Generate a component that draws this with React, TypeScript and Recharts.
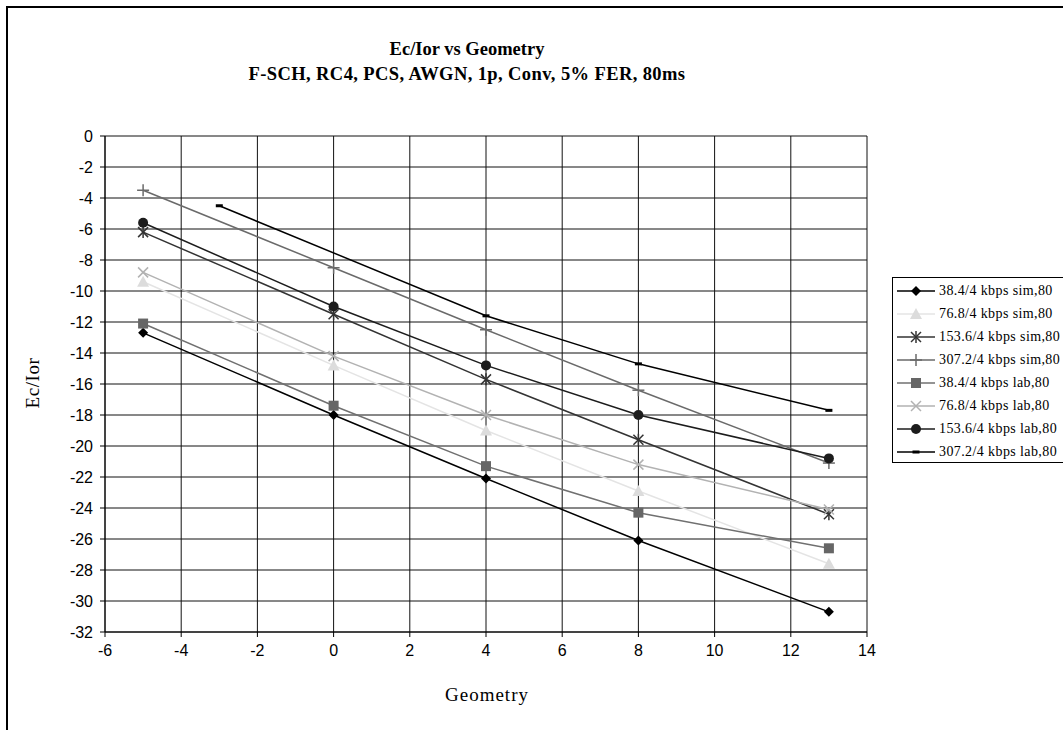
import React from 'react';
import { LineChart, Line, XAxis, YAxis, CartesianGrid } from 'recharts';

// Geometry positions and Ec/Ior readings (dB)
const geometrySim = [-5, 0, 4, 8, 13];
const geometryLab307 = [-3, 4, 8, 13];

const sim384 = [-12.7, -18.0, -22.1, -26.1, -30.7];
const sim768 = [-9.4, -14.8, -19.0, -22.9, -27.6];
const sim1536 = [-6.2, -11.5, -15.7, -19.6, -24.4];
const sim3072 = [-3.5, -8.5, -12.5, -16.4, -21.1];
const lab384 = [-12.1, -17.4, -21.3, -24.3, -26.6];
const lab768 = [-8.8, -14.2, -18.0, -21.2, -24.1];
const lab1536 = [-5.6, -11.0, -14.8, -18.0, -20.8];
const lab3072 = [-4.5, -11.6, -14.7, -17.7];

const xTicks = [-6, -4, -2, 0, 2, 4, 6, 8, 10, 12, 14];
const yTicks = [0, -2, -4, -6, -8, -10, -12, -14, -16, -18, -20, -22, -24, -26, -28, -30, -32];

type Shape = 'diamond' | 'triangle' | 'star' | 'plus' | 'square' | 'cross' | 'circle' | 'dash';

interface SeriesDef {
  name: string;
  xs: number[];
  ys: number[];
  color: string;
  markColor: string;
  shape: Shape;
}

const series: SeriesDef[] = [
  { name: '38.4/4 kbps sim,80', xs: geometrySim, ys: sim384, color: '#000000', markColor: '#000000', shape: 'diamond' },
  { name: '76.8/4 kbps sim,80', xs: geometrySim, ys: sim768, color: '#e4e4e4', markColor: '#dcdcdc', shape: 'triangle' },
  { name: '153.6/4 kbps sim,80', xs: geometrySim, ys: sim1536, color: '#333333', markColor: '#333333', shape: 'star' },
  { name: '307.2/4 kbps sim,80', xs: geometrySim, ys: sim3072, color: '#6a6a6a', markColor: '#6a6a6a', shape: 'plus' },
  { name: '38.4/4 kbps lab,80', xs: geometrySim, ys: lab384, color: '#707070', markColor: '#666666', shape: 'square' },
  { name: '76.8/4 kbps lab,80', xs: geometrySim, ys: lab768, color: '#b2b2b2', markColor: '#b2b2b2', shape: 'cross' },
  { name: '153.6/4 kbps lab,80', xs: geometrySim, ys: lab1536, color: '#1c1c1c', markColor: '#1c1c1c', shape: 'circle' },
  { name: '307.2/4 kbps lab,80', xs: geometryLab307, ys: lab3072, color: '#000000', markColor: '#000000', shape: 'dash' },
];

function Marker({ cx, cy, shape, color }: { cx: number; cy: number; shape: Shape; color: string }) {
  if (cx == null || cy == null) return null;
  switch (shape) {
    case 'diamond':
      return <path d={`M${cx},${cy - 5}L${cx + 5},${cy}L${cx},${cy + 5}L${cx - 5},${cy}Z`} fill={color} />;
    case 'triangle':
      return <path d={`M${cx},${cy - 6}L${cx + 6},${cy + 5}L${cx - 6},${cy + 5}Z`} fill={color} />;
    case 'square':
      return <rect x={cx - 5} y={cy - 5} width={10} height={10} fill={color} />;
    case 'circle':
      return <circle cx={cx} cy={cy} r={5} fill={color} />;
    case 'dash':
      return <rect x={cx - 3.5} y={cy - 1.5} width={7} height={3} fill={color} />;
    case 'plus':
      return (
        <g stroke={color} strokeWidth={1.5}>
          <line x1={cx - 6} y1={cy} x2={cx + 6} y2={cy} />
          <line x1={cx} y1={cy - 6} x2={cx} y2={cy + 6} />
        </g>
      );
    case 'cross':
      return (
        <g stroke={color} strokeWidth={1.5}>
          <line x1={cx - 5} y1={cy - 5} x2={cx + 5} y2={cy + 5} />
          <line x1={cx - 5} y1={cy + 5} x2={cx + 5} y2={cy - 5} />
        </g>
      );
    case 'star':
      return (
        <g stroke={color} strokeWidth={1.5}>
          <line x1={cx - 5} y1={cy - 5} x2={cx + 5} y2={cy + 5} />
          <line x1={cx - 5} y1={cy + 5} x2={cx + 5} y2={cy - 5} />
          <line x1={cx} y1={cy - 6} x2={cx} y2={cy + 6} />
        </g>
      );
  }
  return null;
}

const serif = '"Liberation Serif", "DejaVu Serif", serif';
const sans = '"Liberation Sans", Arial, sans-serif';

export default function App() {
  return (
    <div style={{ position: 'absolute', left: 0, top: 0, width: 1063, height: 730, overflow: 'hidden', background: '#fff' }}>
      <div style={{ position: 'absolute', left: 6, top: 6, width: 1100, height: 800, borderTop: '2px solid #000', borderLeft: '2px solid #000' }} />
      <div style={{ position: 'absolute', left: 0, width: 934, top: 37, textAlign: 'center', fontFamily: serif, fontWeight: 'bold', fontSize: 18.5, lineHeight: '25px' }}>
        <div>Ec/Ior vs Geometry</div>
        <div style={{ letterSpacing: 0.4 }}>F-SCH, RC4, PCS, AWGN, 1p, Conv, 5% FER, 80ms</div>
      </div>
      <div style={{ position: 'absolute', left: 13, top: 363, width: 40, height: 40, display: 'flex', alignItems: 'center', justifyContent: 'center' }}>
        <div style={{ transform: 'rotate(-90deg)', fontFamily: serif, fontSize: 19, letterSpacing: 0.6, whiteSpace: 'nowrap' }}>Ec/Ior</div>
      </div>
      <div style={{ position: 'absolute', left: 387, width: 200, top: 684, textAlign: 'center', fontFamily: serif, fontSize: 19, letterSpacing: 1 }}>Geometry</div>

      <div style={{ position: 'absolute', left: 0, top: 0 }}>
        <LineChart width={1063} height={730} margin={{ top: 136, right: 196, bottom: 68, left: 55 }}>
          <CartesianGrid stroke="#111" strokeWidth={1} />
          <XAxis
            type="number"
            dataKey="x"
            domain={[-6, 14]}
            ticks={xTicks}
            interval={0}
            allowDataOverflow
            height={30}
            axisLine={{ stroke: '#000' }}
            tickLine={{ stroke: '#000' }}
            tickSize={5}
            tick={{ fill: '#000', fontFamily: sans, fontSize: 16 }}
            tickMargin={8}
          />
          <YAxis
            type="number"
            dataKey="y"
            domain={[-32, 0]}
            ticks={yTicks}
            interval={0}
            allowDataOverflow
            width={50}
            axisLine={{ stroke: '#000' }}
            tickLine={{ stroke: '#000' }}
            tickSize={5}
            tick={{ fill: '#000', fontFamily: sans, fontSize: 16 }}
            tickMargin={7}
          />
          {series.map((s) => (
            <Line
              key={s.name}
              name={s.name}
              data={s.xs.map((x, i) => ({ x, y: s.ys[i] }))}
              dataKey="y"
              type="linear"
              stroke={s.color}
              strokeWidth={1.5}
              isAnimationActive={false}
              activeDot={false}
              dot={(p: any) => <Marker key={`${s.name}-${p.index}`} cx={p.cx} cy={p.cy} shape={s.shape} color={s.markColor} />}
            />
          ))}
        </LineChart>
      </div>

      <div style={{ position: 'absolute', left: 892, top: 277, width: 200, height: 186, border: '1px solid #000', borderRightWidth: 0, boxSizing: 'border-box', paddingTop: 1 }}>
        {series.map((s) => (
          <div key={s.name} style={{ display: 'flex', alignItems: 'center', height: 23 }}>
            <svg width={44} height={14} style={{ marginLeft: 2, flex: 'none' }}>
              <line x1={2} y1={7} x2={40} y2={7} stroke={s.color} strokeWidth={1.5} />
              <Marker cx={21} cy={7} shape={s.shape} color={s.markColor} />
            </svg>
            <span style={{ fontFamily: serif, fontSize: 14, letterSpacing: 0.4, whiteSpace: 'nowrap', color: '#000' }}>{s.name}</span>
          </div>
        ))}
      </div>
    </div>
  );
}
